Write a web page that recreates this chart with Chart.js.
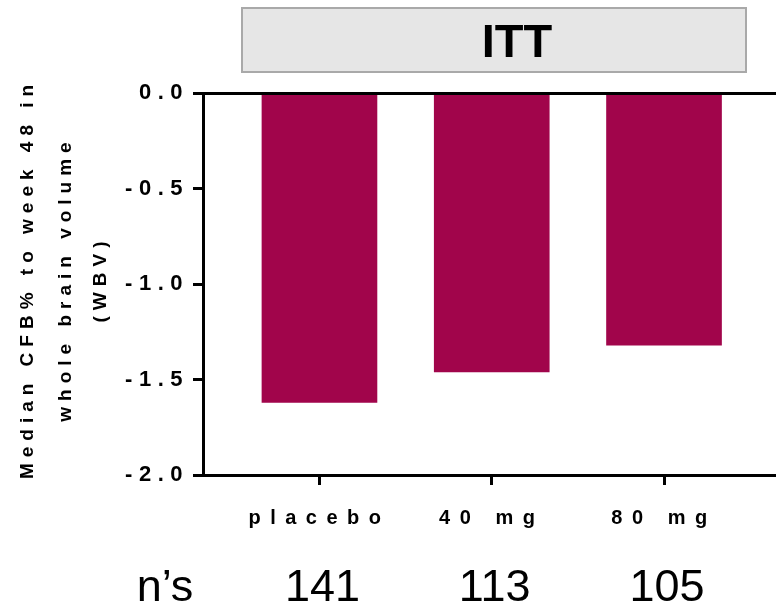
<!DOCTYPE html>
<html>
<head>
<meta charset="utf-8">
<script src="https://cdn.jsdelivr.net/npm/chart.js@4/dist/chart.umd.min.js"></script>
<style>
  html, body { margin: 0; padding: 0; background: #fff; }
  canvas { display: block; }
</style>
</head>
<body>
<canvas id="c" width="776" height="607"></canvas>
<script>
// Median change from baseline (%) to week 48 in whole brain volume, ITT population
const categories = ['placebo', '40 mg', '80 mg'];
const medianChange = [-1.62, -1.46, -1.32];
const sampleSizes = [141, 113, 105];
const yTicks = [0, -0.5, -1.0, -1.5, -2.0];
const panelTitle = 'ITT';
const yTitleLines = ['Median CFB% to week 48 in', 'whole brain volume', '(WBV)'];
const nLabel = 'n\u2019s';

const FONT = '"Liberation Sans", Arial, Helvetica, sans-serif';
const BAR_COLOR = '#a1054b';

// Wide letter spacing on the tick labels of each axis
const spacedLabels = {
  id: 'spacedLabels',
  afterLayout(chart) {
    for (const [id, sp] of [['x', '9.5px'], ['y', '6.5px']]) {
      const s = chart.scales[id];
      if (!s || s._spaced) continue;
      const orig = s.drawLabels;
      s.drawLabels = function (area) {
        const ctx = this.ctx;
        ctx.save();
        ctx.letterSpacing = sp;
        orig.call(this, area);
        ctx.restore();
      };
      s._spaced = true;
    }
  }
};

// Panel header, rotated axis title and the n row under the categories
const annotations = {
  id: 'annotations',
  afterDraw(chart) {
    const ctx = chart.ctx;
    const xs = chart.scales.x;
    const area = chart.chartArea;
    ctx.save();
    ctx.letterSpacing = '0px';

    // header panel
    ctx.fillStyle = '#e6e6e6';
    ctx.fillRect(242, 8, 504, 64);
    ctx.strokeStyle = '#a9a9a9';
    ctx.lineWidth = 2;
    ctx.strokeRect(242, 8, 504, 64);
    ctx.fillStyle = '#000';
    ctx.font = 'bold 47px ' + FONT;
    ctx.textAlign = 'center';
    ctx.textBaseline = 'alphabetic';
    ctx.fillText(panelTitle, 517, 57);

    // y axis title, three rotated lines
    ctx.save();
    ctx.translate(0, (area.top + area.bottom) / 2 - 2);
    ctx.rotate(-Math.PI / 2);
    ctx.font = 'bold 19px ' + FONT;
    ctx.letterSpacing = '6px';
    const baselines = [33, 71, 106];
    yTitleLines.forEach((line, i) => ctx.fillText(line, 3, baselines[i]));
    ctx.restore();

    // sample sizes
    ctx.letterSpacing = '0px';
    ctx.font = '45px ' + FONT;
    ctx.fillStyle = '#000';
    ctx.textAlign = 'center';
    ctx.fillText(nLabel, 165, 601);
    sampleSizes.forEach((n, i) => {
      ctx.fillText(String(n), xs.getPixelForValue(i) + 3, 601);
    });
    ctx.restore();
  }
};

new Chart(document.getElementById('c'), {
  type: 'bar',
  data: {
    datasets: [{
      data: categories.map((c, i) => ({ x: i, y: medianChange[i] })),
      backgroundColor: BAR_COLOR,
      borderWidth: 0,
      barThickness: 115
    }]
  },
  options: {
    responsive: false,
    animation: false,
    devicePixelRatio: 1,
    layout: { padding: { top: 93, left: 0, right: 0, bottom: 0 } },
    plugins: {
      legend: { display: false },
      tooltip: { enabled: false },
      title: { display: false }
    },
    scales: {
      x: {
        type: 'linear',
        min: -0.676,
        max: 2.65,
        offset: false,
        afterBuildTicks: s => { s.ticks = categories.map((c, i) => ({ value: i })); },
        afterFit: s => { s.height = 132; },
        grid: {
          offset: false,
          drawOnChartArea: false,
          drawTicks: true,
          tickLength: 10,
          tickWidth: 3,
          tickColor: '#000',
          color: '#000',
          lineWidth: 3
        },
        border: { display: true, color: '#000', width: 3, z: 1 },
        ticks: {
          autoSkip: false,
          maxRotation: 0,
          padding: 21,
          color: '#000',
          font: { family: FONT, size: 20, weight: 'bold' },
          callback: v => categories[v]
        }
      },
      y: {
        min: -2,
        max: 0,
        afterBuildTicks: s => { s.ticks = yTicks.map(v => ({ value: v })); },
        afterFit: s => { s.width = 203; },
        grid: {
          z: 1,
          color: c => (c.tick && c.tick.value === 0 ? '#000' : 'rgba(0,0,0,0)'),
          lineWidth: 3,
          drawTicks: true,
          tickLength: 10,
          tickWidth: 3,
          tickColor: '#000'
        },
        border: { display: true, color: '#000', width: 3, z: 1 },
        ticks: {
          padding: 4,
          color: '#000',
          font: { family: FONT, size: 22, weight: 'bold' },
          callback: v => Number(v).toFixed(1)
        }
      }
    }
  },
  plugins: [spacedLabels, annotations]
});
</script>
</body>
</html>
